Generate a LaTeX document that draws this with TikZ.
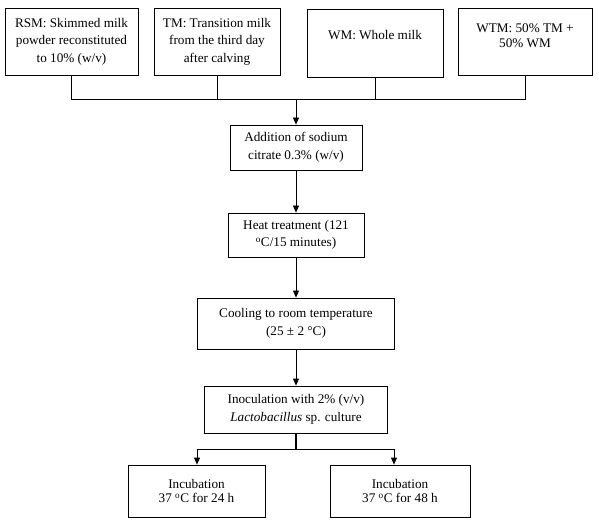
\documentclass[tikz,border=0pt]{standalone}
\usepackage{fontspec}
\setmainfont{Liberation Serif}
\usetikzlibrary{arrows.meta}
\begin{document}
\begin{tikzpicture}[x=1pt,y=-1pt,
  box/.style={draw, line width=0.8pt, inner sep=0pt, align=center, font=\fontsize{13.2}{17.5}\selectfont},
  txt/.style={inner sep=0pt, align=center, font=\fontsize{13.2}{15}\selectfont},
  ln/.style={line width=0.8pt},
  thick line/.style={line width=1.8pt},
  arr/.style={line width=0.8pt, -{Triangle[length=7pt,width=6pt]}}]
\useasboundingbox (0,0) rectangle (599,526);

% top row
\node[box, minimum width=133, minimum height=67] (rsm) at (71.5,41.5) {RSM: Skimmed milk\\powder reconstituted\\to 10\% (w/v)};
\node[box, minimum width=126, minimum height=67] (tm) at (217,41.5) {TM: Transition milk\\from the third day\\after calving};
\node[box, minimum width=136, minimum height=68] (wm) at (375,43) {};
\node[txt] (wmt) at (375,35) {WM: Whole milk};
\node[box, minimum width=134, minimum height=67] (wtm) at (525,41.5) {};
\node[txt] (wtmt) at (525,36) {WTM: 50\% TM +\\50\% WM};

% process chain
\node[box, minimum width=132, minimum height=45] (add) at (296,147.5) {Addition of sodium\\citrate 0.3\% (w/v)};
\node[box, minimum width=136, minimum height=44] (heat) at (296,235) {Heat treatment (121\\\textsuperscript{o}C/15 minutes)};
\node[box, minimum width=197, minimum height=51] (cool) at (296,323.5) {Cooling to room temperature\\(25 ± 2 °C)};
\node[box, minimum width=183, minimum height=47] (inoc) at (296,409.5) {Inoculation with 2\% (v/v)\\\textit{Lactobacillus} sp. culture};
\node[box, minimum width=137, minimum height=52, font=\fontsize{13.2}{14.5}\selectfont] (inc1) at (196.5,491) {Incubation\\37 \textsuperscript{o}C for 24 h};
\node[box, minimum width=140, minimum height=52, font=\fontsize{13.2}{14.5}\selectfont] (inc2) at (400,491) {Incubation\\37 \textsuperscript{o}C for 48 h};

% collector bus
\coordinate (bus) at (296,99);
\draw[ln] (rsm.south) |- (wtm.south |- bus) -- (wtm.south);
\draw[ln] (tm.south) -- (tm.south |- bus);
\draw[ln] (wm.south) -- (wm.south |- bus);
\draw[arr] (bus) -- (add.north);

\draw[arr] (add.south) -- (heat.north);
\draw[arr] (heat.south) -- (cool.north);
\draw[arr] (cool.south) -- (inoc.north);

% split
\coordinate (split) at (296,449);
\coordinate (sl) at (197,449);
\coordinate (sr) at (394,449);
\draw[thick line] (inoc.south) -- (split);
\draw[ln] (sl) -- (sr);
\draw[arr] (sl) -- (sl |- inc1.north);
\draw[arr] (sr) -- (sr |- inc2.north);
\end{tikzpicture}
\end{document}
